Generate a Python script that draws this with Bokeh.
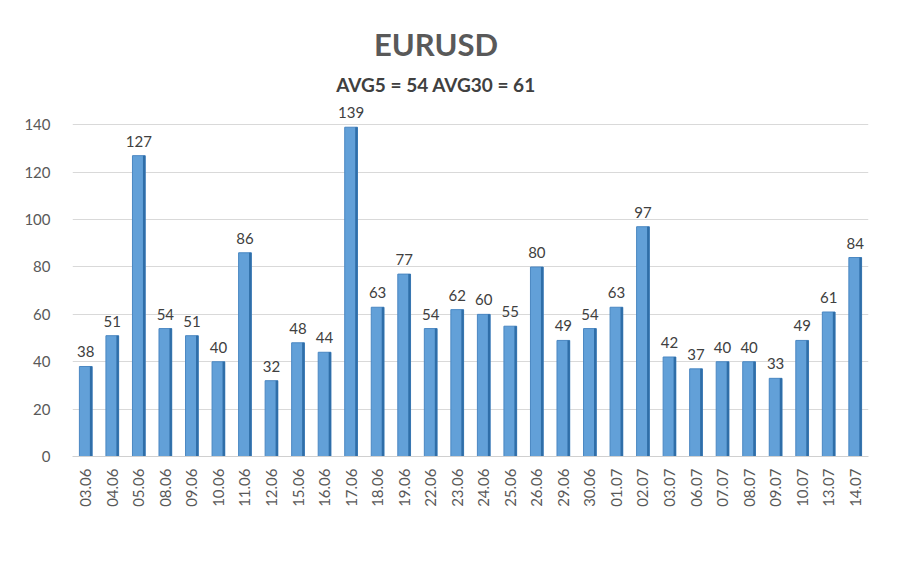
import math
from bokeh.plotting import figure
from bokeh.models import ColumnDataSource, LabelSet, Label, FactorRange, Range1d, FixedTicker
from bokeh.transform import dodge
from bokeh.core.properties import value
from bokeh.embed import file_html
from bokeh.resources import INLINE

dates = ["03.06", "04.06", "05.06", "08.06", "09.06", "10.06", "11.06", "12.06", "15.06", "16.06",
         "17.06", "18.06", "19.06", "22.06", "23.06", "24.06", "25.06", "26.06", "29.06", "30.06",
         "01.07", "02.07", "03.07", "06.07", "07.07", "08.07", "09.07", "10.07", "13.07", "14.07"]
values = [38, 51, 127, 54, 51, 40, 86, 32, 48, 44,
          139, 63, 77, 54, 62, 60, 55, 80, 49, 54,
          63, 97, 42, 37, 40, 40, 33, 49, 61, 84]
title_text = "EURUSD"
subtitle_text = "AVG5 = 54 AVG30 = 61"
y_ticks = [0, 20, 40, 60, 80, 100, 120, 140]

FONT = "Lato"

src = ColumnDataSource(dict(x=dates, top=values, lbl=[str(v) for v in values]))

p = figure(width=900, height=570, x_range=FactorRange(*dates), y_range=Range1d(0, 192.5),
           output_backend="svg", toolbar_location=None,
           min_border_left=72, min_border_right=32, min_border_top=0, min_border_bottom=114)
p.background_fill_color = "white"
p.border_fill_color = "white"
p.outline_line_color = None

# main bar body
p.vbar(x="x", top="top", width=0.48, source=src, fill_color="#62A0D8",
       line_color="#4A87C2", line_width=1)
# darker right side for the 3D look
p.vbar(x=dodge("x", 0.2, range=p.x_range), top="top", width=0.09, source=src,
       fill_color="#2F6EA8", line_color=None)

labels = LabelSet(x="x", y="top", text="lbl", source=src, text_align="center",
                  text_baseline="bottom", y_offset=9, text_font=value(FONT),
                  text_font_size="15px", text_color="#404040")
p.add_layout(labels)

p.yaxis.ticker = FixedTicker(ticks=y_ticks)
p.yaxis.axis_line_color = None
p.yaxis.major_tick_line_color = None
p.yaxis.minor_tick_line_color = None
p.yaxis.major_label_text_font = FONT
p.yaxis.major_label_text_font_size = "15px"
p.yaxis.major_label_text_color = "#595959"
p.yaxis.major_label_standoff = 16

p.xaxis.axis_line_color = "#d0d0d0"
p.xaxis.major_tick_line_color = None
p.xaxis.minor_tick_line_color = None
p.xaxis.major_label_orientation = math.pi / 2
p.xaxis.major_label_text_font = FONT
p.xaxis.major_label_text_font_size = "15px"
p.xaxis.major_label_text_color = "#595959"
p.xaxis.major_label_standoff = 6

p.xgrid.grid_line_color = None
p.ygrid.grid_line_color = "#d9d9d9"
p.ygrid.grid_line_width = 1

# titles (positioned in synthetic/data coordinates inside the tall frame)
p.add_layout(Label(x=13.7, y=174, text=title_text, text_align="center", text_baseline="middle",
                   text_font=FONT, text_font_size="31px", text_font_style="bold",
                   text_color="#595959"))
p.add_layout(Label(x=13.7, y=157, text=subtitle_text, text_align="center", text_baseline="middle",
                   text_font=FONT, text_font_size="19px", text_font_style="bold",
                   text_color="#404040"))

open("out.html", "w").write(file_html(p, INLINE))
